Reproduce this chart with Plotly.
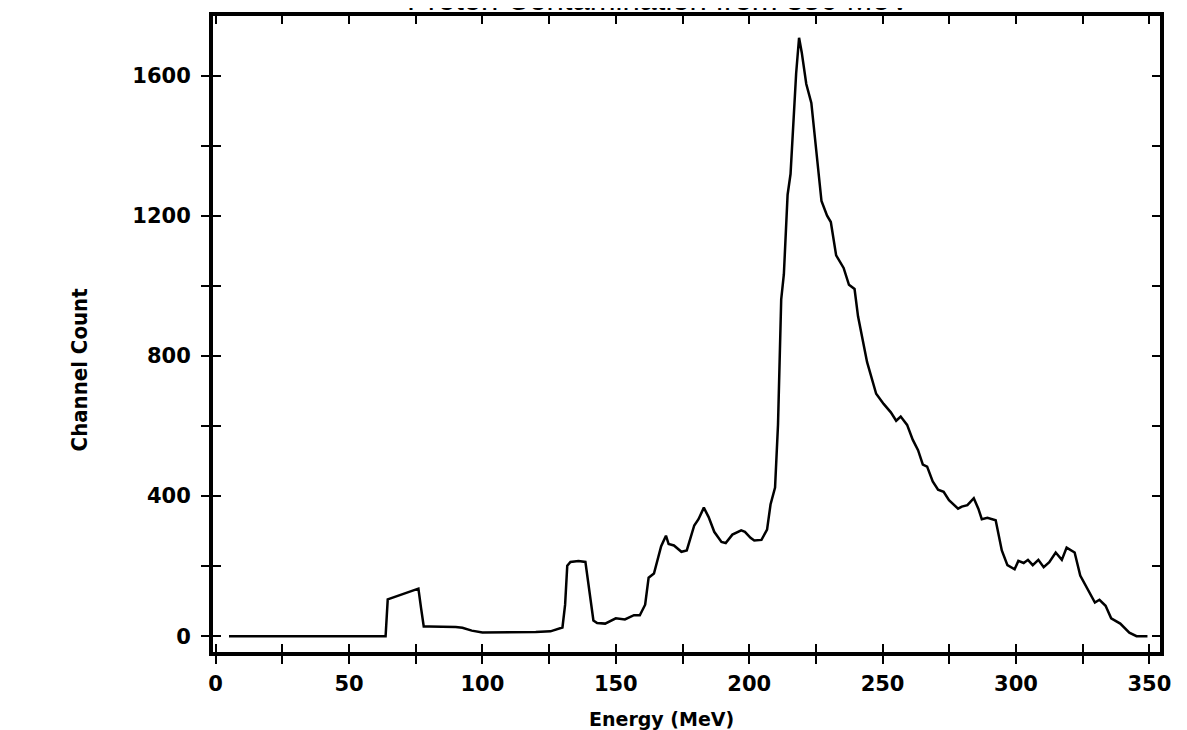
import plotly.graph_objects as go

# spectrum
energy = [5, 20, 40, 55, 63, 63.7, 64.5, 68, 72, 76, 77, 78, 80, 85, 90, 92.5, 96, 100, 105, 110,
          115, 120, 125.5, 128, 130, 131, 131.8, 133, 136, 138.6, 139.7, 141.6, 143, 146, 150,
          153.4, 156.8, 159, 161, 162.3, 164.3, 167, 168.8, 169.8, 171.8, 174.6, 176.6, 179.4,
          181, 183, 184.8, 186.9, 189.6, 191.2, 193.7, 197, 198.4, 200.5, 201.9, 204.6, 206.7,
          208, 209.7, 210.8, 212, 213, 214.4, 215.5, 217.6, 218.7, 219.7, 221.4, 223.3, 225.1,
          227.1, 229.2, 230.6, 232.6, 235.4, 237.4, 239.5, 240.8, 244.2, 247.6, 250.4, 253.1,
          255.1, 256.8, 259.2, 261.3, 263.3, 265.1, 266.7, 268.8, 270.8, 272.9, 274.9, 278.3,
          279.7, 281.8, 284.2, 285.9, 287.2, 289.3, 292.4, 294.7, 296.8, 299.5, 300.9, 302.9,
          304.5, 306.3, 308.4, 310.4, 312.5, 314.9, 317.2, 319, 322, 324.1, 326.8, 329.6, 331.3,
          333.6, 335.7, 339.1, 342.5, 345.2, 349.3]
counts = [0, 0, 0, 0, 0, 0, 105, 115, 125, 136, 80, 28, 28, 28, 26, 24, 16, 11, 11, 12,
          12, 12, 14, 20, 25, 90, 201, 212, 215, 212, 150, 45, 38, 36, 51,
          48, 60, 60, 90, 167, 179, 257, 287, 263, 259, 241, 245, 316,
          334, 367, 340, 298, 269, 266, 290, 302, 298, 281, 273, 275, 304,
          376, 424, 603, 961, 1033, 1260, 1319, 1606, 1708, 1666, 1576, 1522, 1391,
          1242, 1200, 1182, 1087, 1051, 1003, 991, 913, 782, 692, 663, 639,
          615, 627, 603, 561, 531, 490, 484, 442, 418, 412, 388, 364,
          370, 374, 394, 364, 334, 338, 331, 245, 203, 191, 215, 209,
          218, 203, 218, 197, 211, 239, 218, 253, 239, 173, 137, 96, 104,
          87, 51, 36, 10, 0, 0]

x_range = [-1, 354]
y_range = [-45, 1770]

font_bold = 'DejaVu Sans, Liberation Sans, sans-serif'

fig = go.Figure()
fig.add_trace(go.Scatter(
    x=energy,
    y=counts,
    mode='lines',
    line=dict(color='black', width=2.5),
    showlegend=False))

axis_common = dict(
    showline=True,
    linecolor='black',
    linewidth=4,
    showgrid=False,
    zeroline=False,
    ticklen=8,
    tickwidth=2,
    tickcolor='black',
)

fig.update_layout(
    width=1187,
    height=730,
    margin=dict(l=205, r=35, t=4, b=86),
    plot_bgcolor='white',
    paper_bgcolor='white',
    xaxis=dict(
        axis_common,
        range=x_range,
        dtick=50,
        tick0=0,
        ticks='outside',
        minor=dict(dtick=25, ticks='outside', ticklen=8, tickwidth=2, tickcolor='black'),
        tickfont=dict(family=font_bold, size=21, color='black', weight='bold'),
        ticklabelstandoff=2,
        mirror=True,
    ),
    yaxis=dict(
        axis_common,
        range=y_range,
        dtick=400,
        tick0=0,
        ticks='outside',
        minor=dict(dtick=200, ticks='outside', ticklen=8, tickwidth=2, tickcolor='black'),
        tickfont=dict(family=font_bold, size=21, color='black', weight='bold'),
        ticklabelstandoff=6,
        mirror=True,
    ),
    # inside ticks on all four sides
    xaxis2=dict(
        axis_common,
        overlaying='x',
        anchor='y',
        side='bottom',
        range=x_range,
        dtick=25,
        tick0=0,
        ticks='inside',
        showticklabels=False,
        mirror='allticks',
    ),
    yaxis2=dict(
        axis_common,
        overlaying='y',
        anchor='x',
        side='left',
        range=y_range,
        dtick=200,
        tick0=0,
        ticks='inside',
        showticklabels=False,
        mirror='allticks',
    ),
)

# dummy trace so the overlay axes render
fig.add_trace(go.Scatter(x=[None], y=[None], xaxis='x2', yaxis='y2', showlegend=False,
                         hoverinfo='skip'))

fig.add_annotation(
    text='<b>Energy (MeV)</b>',
    xref='paper', yref='paper',
    x=0.474, y=-0.106, yanchor='middle',
    showarrow=False,
    font=dict(family=font_bold, size=19, color='black'),
)

fig.add_annotation(
    text='<b>Channel Count</b>',
    xref='paper', yref='paper',
    x=-0.156, y=0.444,
    textangle=-90,
    showarrow=False,
    font=dict(family='DejaVu Sans Condensed, DejaVu Sans, sans-serif', size=22, color='black'),
)

# title, cut off at the top edge
fig.add_annotation(
    text='Proton Contamination from 350 MeV',
    xref='paper', yref='paper',
    x=0.47, y=1, yanchor='bottom', yshift=-3,
    showarrow=False,
    font=dict(family='Liberation Sans, sans-serif', size=31, color='black'),
)

fig.write_html('out.html')
